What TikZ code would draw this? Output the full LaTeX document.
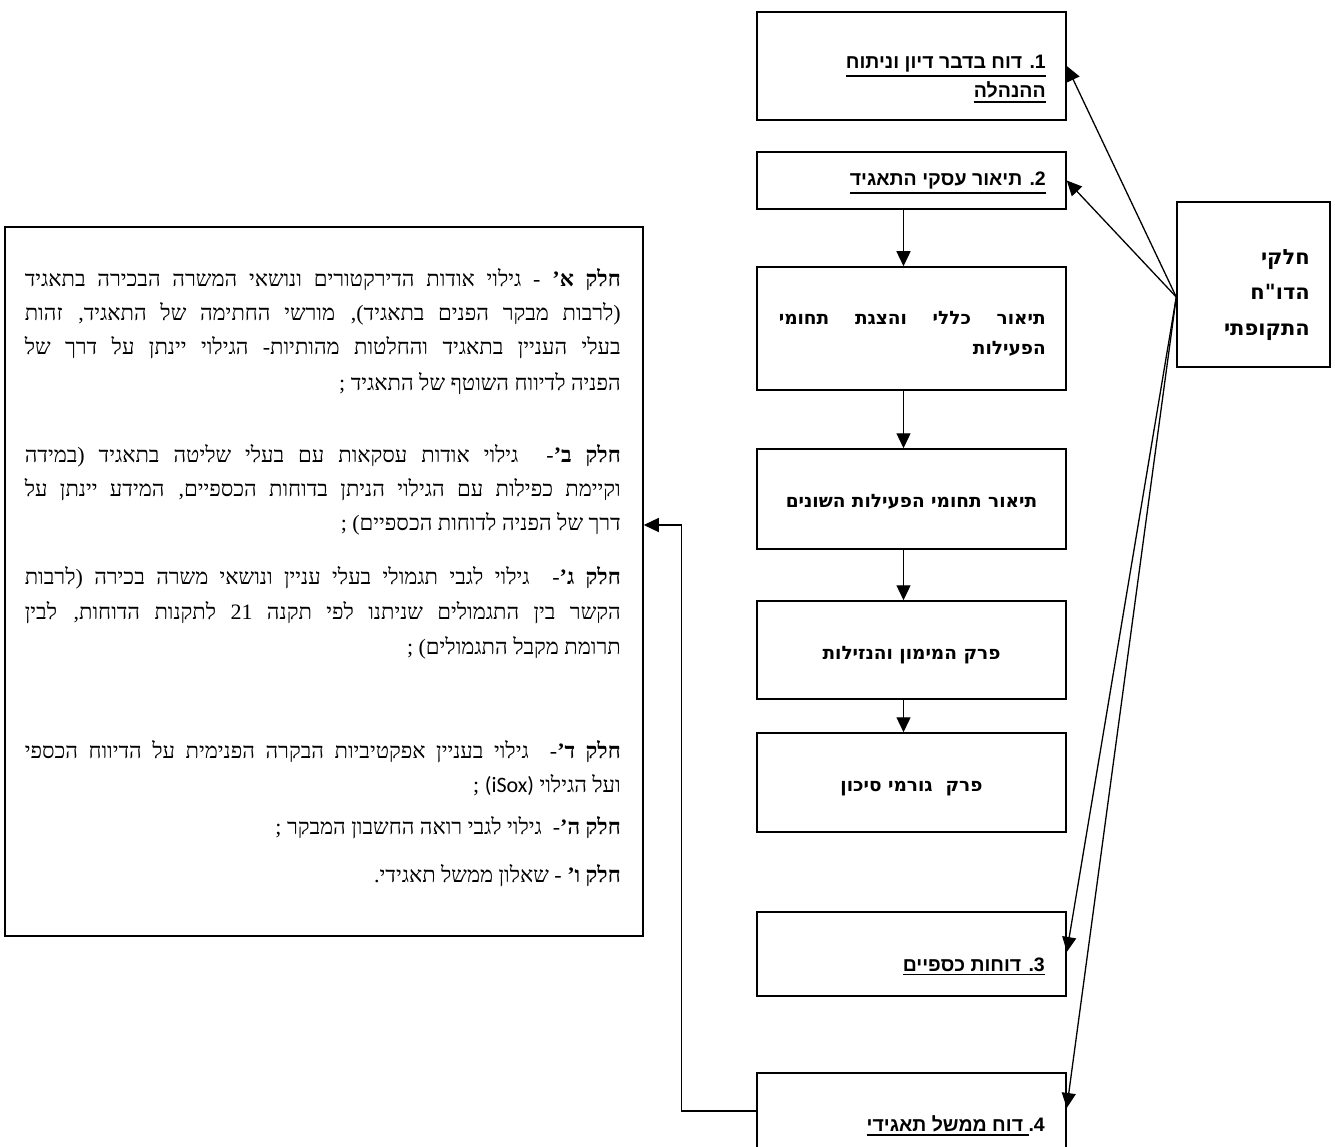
\documentclass[tikz,border=0pt]{standalone}
\usepackage{fontspec}
\usetikzlibrary{arrows.meta}
\TeXXeTstate=1
\newfontfamily\hserif[Script=Hebrew]{Liberation Serif}
\newfontfamily\hsans[Script=Hebrew]{Liberation Sans}
\newfontfamily\hdv[Script=Hebrew]{DejaVu Sans}
\newfontfamily\latsans{Carlito}
\newlength\lw \setlength\lw{596pt}
\newcommand\jl[1]{\hbox to \lw{\beginR #1\endR}}
\newcommand\rl[1]{\hbox to \lw{\hfil\beginR #1\endR}}
\newcommand\ulbox[1]{\vtop{\hbox{#1}\kern2.4pt\hrule height 1.8pt}}
\newcommand\hb[1]{{\bfseries #1}}
\begin{document}
\begin{tikzpicture}[x=1pt,y=-1pt,
  box/.style={draw,line width=1.5pt,inner sep=0pt,minimum width=309pt},
  arr/.style={line width=1.3pt,-{Triangle[length=15pt,width=14pt]}},
  ln/.style={inner sep=0pt,anchor=base east,font=\hserif\fontsize{22}{26}\selectfont},
  ttl/.style={inner sep=0pt,anchor=base east,font=\hsans\bfseries\fontsize{19.5}{23}\selectfont},
  mid/.style={inner sep=0pt,anchor=base,font=\hdv\bfseries\fontsize{18.5}{22}\selectfont},
  rbt/.style={inner sep=0pt,anchor=base east,font=\hdv\bfseries\fontsize{21}{25}\selectfont},
]
\useasboundingbox (0,0) rectangle (1335,1147);
% right column boxes
\node[box,minimum height=108pt] (b1) at (911.5,66) {};
\node[box,minimum height=57pt] (b2) at (911.5,180.5) {};
\node[box,minimum height=123pt] (b3) at (911.5,328.5) {};
\node[box,minimum height=100pt] (b4) at (911.5,499) {};
\node[box,minimum height=98pt] (b5) at (911.5,650) {};
\node[box,minimum height=99pt] (b6) at (911.5,782.5) {};
\node[box,minimum height=84pt] (b7) at (911.5,954) {};
\node[box,minimum height=87pt] (b8) at (911.5,1116.5) {};
\node[box,minimum width=153pt,minimum height=165pt] (rb) at (1253.5,284.5) {};
\node[box,minimum width=638pt,minimum height=709pt] (big) at (324,581.5) {};
% titles
\node[ttl] (t1a) at (1046,69) {\ulbox{\beginR 1\kern0pt. דוח בדבר דיון וניתוח\endR}};
\node[ttl] (t1b) at (1046,98) {\ulbox{\beginR ההנהלה\endR}};
\node[ttl] (t2) at (1046,186) {\ulbox{\beginR 2\kern0pt. תיאור עסקי התאגיד\endR}};
\node[mid,anchor=base east] (t3a) at (1046,325) {\hbox to 267pt{\beginR תיאור כללי והצגת תחומי\endR}};
\node[mid,anchor=base east] (t3b) at (1046,355) {\beginR הפעילות\endR};
\node[mid] (t4) at (911.5,507) {\beginR תיאור תחומי הפעילות השונים\endR};
\node[mid] (t5) at (911.5,659) {\beginR פרק המימון והנזילות\endR};
\node[mid] (t6) at (911.5,791) {\beginR פרק \ גורמי סיכון\endR};
\node[ttl] (t7) at (1045,971) {\ulbox{\beginR 3\kern0pt. דוחות כספיים\endR}};
\node[ttl] (t8) at (1045,1131) {\beginR 4\kern0pt.\ulbox{\beginR\ דוח ממשל תאגידי\endR}\endR};
% right box text
\node[rbt] (r1) at (1310,265) {חלקי};
\node[rbt] (r2) at (1310,300) {הדו"ח};
\node[rbt] (r3) at (1310,335) {התקופתי};
% left box text
\node[ln] (l1) at (621,287) {\jl{\hb{חלק א’} - גילוי אודות הדירקטורים ונושאי המשרה הבכירה בתאגיד}};
\node[ln] (l2) at (621,321) {\jl{(לרבות מבקר הפנים בתאגיד), מורשי החתימה של התאגיד, זהות}};
\node[ln] (l3) at (621,355) {\jl{בעלי העניין בתאגיד והחלטות מהותיות- הגילוי יינתן על דרך של}};
\node[ln] (l4) at (621,390) {\rl{הפניה לדיווח השוטף של התאגיד ;}};
\node[ln] (l5) at (621,462) {\jl{\hb{חלק ב’}- \ גילוי אודות עסקאות עם בעלי שליטה בתאגיד (במידה}};
\node[ln] (l6) at (621,496) {\jl{וקיימת כפילות עם הגילוי הניתן בדוחות הכספיים, המידע יינתן על}};
\node[ln] (l7) at (621,530) {\rl{דרך של הפניה לדוחות הכספיים) ;}};
\node[ln] (l8) at (621,584) {\jl{\hb{חלק ג’}- \ גילוי לגבי תגמולי בעלי עניין ונושאי משרה בכירה (לרבות}};
\node[ln] (l9) at (621,619) {\jl{הקשר בין התגמולים שניתנו לפי תקנה 21 לתקנות הדוחות, לבין}};
\node[ln] (l10) at (621,654) {\rl{תרומת מקבל התגמולים) ;}};
\node[ln] (l11) at (621,758) {\jl{\hb{חלק ד’}- \ גילוי בעניין אפקטיביות הבקרה הפנימית על הדיווח הכספי}};
\node[ln] (l12) at (621,792) {\rl{ועל הגילוי {\latsans(iSox)} ;}};
\node[ln] (l13) at (621,834) {\rl{\hb{חלק ה’}- \ גילוי לגבי רואה החשבון המבקר ;}};
\node[ln] (l14) at (621,882) {\rl{\hb{חלק ו’} - שאלון ממשל תאגידי.}};
% connectors
\coordinate (fan) at ([yshift=-12.5pt]rb.west);
\draw[arr] (fan) -- (b1.east);
\draw[arr] (fan) -- (b2.east);
\draw[arr] (fan) -- ([yshift=2pt]b7.east);
\draw[arr] (fan) -- ([yshift=8.5pt]b8.east);
\draw[arr] ([xshift=-8pt]b2.south) -- ([xshift=-8pt]b3.north);
\draw[arr] ([xshift=-8pt]b3.south) -- ([xshift=-8pt]b4.north);
\draw[arr] ([xshift=-8pt]b4.south) -- ([xshift=-8pt]b5.north);
\draw[arr] ([xshift=-8pt]b5.south) -- ([xshift=-8pt]b6.north);
\draw[arr] ([yshift=5.5pt]b8.west) -- ++(-75pt,0) |- ([yshift=56.5pt]big.east);
\end{tikzpicture}
\end{document}
